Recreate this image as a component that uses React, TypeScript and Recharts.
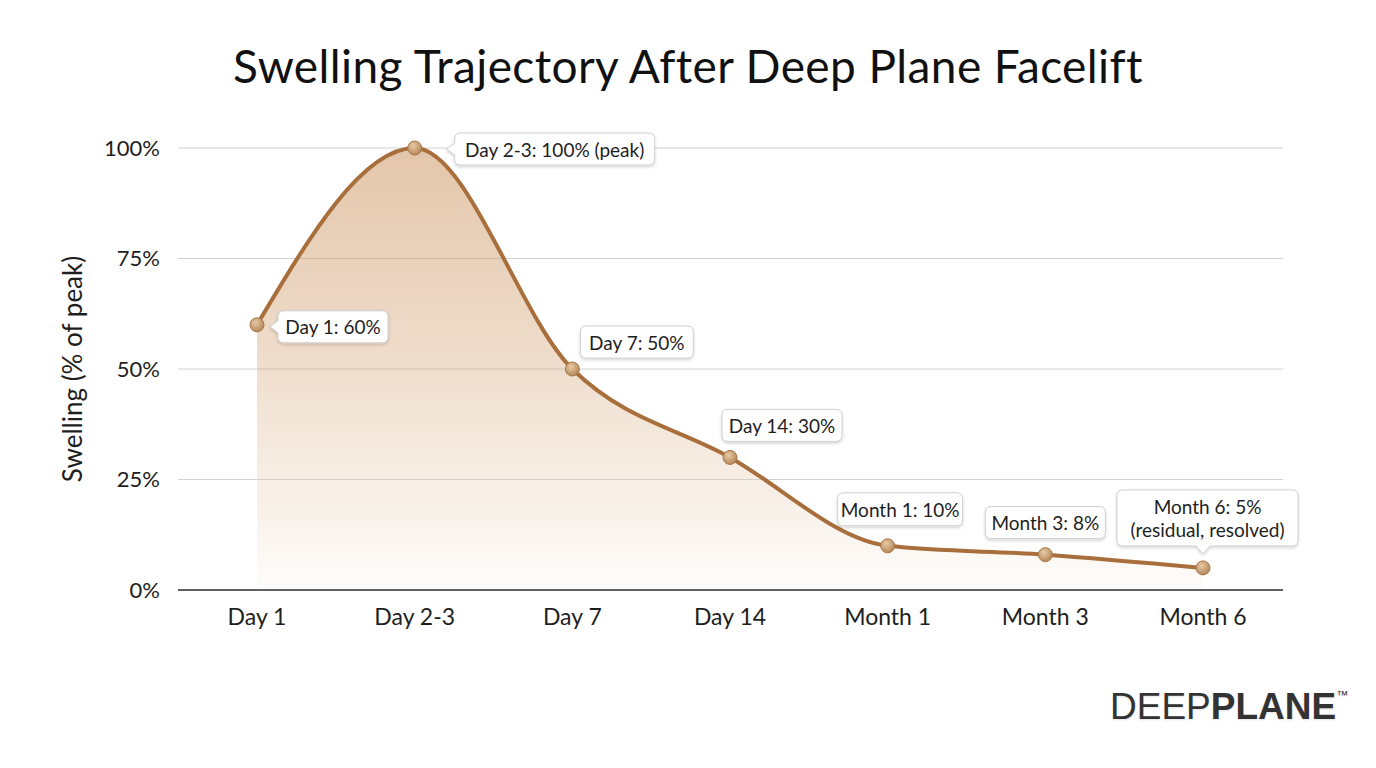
import React from 'react';
import { AreaChart, Area, XAxis, YAxis, CartesianGrid, LabelList } from 'recharts';

const categories = ['Day 1', 'Day 2-3', 'Day 7', 'Day 14', 'Month 1', 'Month 3', 'Month 6'];
const swelling = [60, 100, 50, 30, 10, 8, 5];
const pointLabels = [
  ['Day 1: 60%'],
  ['Day 2-3: 100% (peak)'],
  ['Day 7: 50%'],
  ['Day 14: 30%'],
  ['Month 1: 10%'],
  ['Month 3: 8%'],
  ['Month 6: 5%', '(residual, resolved)'],
];
const yTicks = [0, 25, 50, 75, 100];

const data = categories.map((c, i) => ({ name: c, value: swelling[i], label: pointLabels[i] }));

const FONT = 'Lato, "Open Sans", "Noto Sans", sans-serif';

// box placement relative to each point (style only)
const labelLayout = [
  { dx: 21, dy: -14, w: 110, h: 32, pointer: 'left' },
  { dx: 40, dy: -15, w: 200, h: 32, pointer: 'left' },
  { dx: 8, dy: -43, w: 113, h: 32, pointer: 'none' },
  { dx: -8, dy: -48, w: 120, h: 32, pointer: 'none' },
  { dx: -50, dy: -53, w: 125, h: 33, pointer: 'none' },
  { dx: -60, dy: -48, w: 120, h: 32, pointer: 'none' },
  { dx: -86, dy: -78, w: 181, h: 56, pointer: 'down' },
];

function boxPath(L: number, T: number, w: number, h: number, pointer: string, px: number) {
  const r = 6;
  const R = L + w;
  const B = T + h;
  const cy = T + h / 2;
  let p = `M ${L + r},${T} H ${R - r} Q ${R},${T} ${R},${T + r} V ${B - r} Q ${R},${B} ${R - r},${B}`;
  if (pointer === 'down') {
    p += ` H ${px + 7} L ${px},${B + 8} L ${px - 7},${B}`;
  }
  p += ` H ${L + r} Q ${L},${B} ${L},${B - r}`;
  if (pointer === 'left') {
    p += ` V ${cy + 6} L ${L - 8},${cy} L ${L},${cy - 6}`;
  }
  p += ` V ${T + r} Q ${L},${T} ${L + r},${T} Z`;
  return p;
}

const renderLabel = (props: any) => {
  const { x, y, index } = props;
  const lay = labelLayout[index];
  const lines = pointLabels[index];
  if (!lay || x == null || y == null) return null;
  const L = x + lay.dx;
  const T = y + lay.dy;
  const cx = L + lay.w / 2;
  const lh = 23;
  const startY = T + lay.h / 2 - ((lines.length - 1) * lh) / 2;
  return (
    <g key={`lbl-${index}`}>
      <path d={boxPath(L, T, lay.w, lay.h, lay.pointer, x)} fill="#ffffff" stroke="#cfcfcf" strokeWidth={1} filter="url(#boxShadow)" />
      {lines.map((t, i) => (
        <text key={i} x={cx} y={startY + i * lh} textAnchor="middle" dominantBaseline="central" fontSize={19} fill="#1e1e1e" fontFamily={FONT}>
          {t}
        </text>
      ))}
    </g>
  );
};

const YLabel = (props: any) => {
  const vb = props.viewBox || {};
  const cy = (vb.y ?? 148) + (vb.height ?? 442) / 2;
  const x = 82;
  return (
    <text x={x} y={cy} transform={`rotate(-90, ${x}, ${cy})`} textAnchor="middle" fontSize={26} fill="#1e1e1e" fontFamily={FONT}>
      Swelling (% of peak)
    </text>
  );
};

export default function App() {
  return (
    <div style={{ position: 'absolute', left: 0, top: 0, width: 1376, height: 768, background: '#ffffff', fontFamily: FONT }}>
      <div style={{ position: 'absolute', left: 0, top: 38, width: 1376, textAlign: 'center', fontSize: 46, color: '#111', fontFamily: FONT, letterSpacing: 0.4 }}>
        Swelling Trajectory After Deep Plane Facelift
      </div>
      <AreaChart width={1376} height={768} data={data} margin={{ top: 148, right: 93, bottom: 148, left: 98 }}>
        <defs>
          <linearGradient id="areaFill" x1="0" y1="0" x2="0" y2="1">
            <stop offset="0%" stopColor="#c98f58" stopOpacity={0.85} />
            <stop offset="45%" stopColor="#d4a679" stopOpacity={0.68} />
            <stop offset="80%" stopColor="#e8cdb2" stopOpacity={0.5} />
            <stop offset="100%" stopColor="#f7eee5" stopOpacity={0.35} />
          </linearGradient>
          <radialGradient id="dotFill" cx="40%" cy="35%" r="70%">
            <stop offset="0%" stopColor="#e8caa4" />
            <stop offset="100%" stopColor="#b08254" />
          </radialGradient>
          <filter id="boxShadow" x="-20%" y="-30%" width="140%" height="170%">
            <feDropShadow dx="0" dy="1.5" stdDeviation="1.5" floodColor="#000" floodOpacity="0.18" />
          </filter>
        </defs>
        <CartesianGrid vertical={false} stroke="#d2d2d2" strokeWidth={1} />
        <XAxis
          dataKey="name"
          padding={{ left: 79, right: 80 }}
          tickLine={false}
          tickMargin={13}
          axisLine={{ stroke: '#333', strokeWidth: 1.5 }}
          tick={{ fontSize: 23, fill: '#1e1e1e', fontFamily: FONT }}
          interval={0}
        />
        <YAxis
          width={80}
          domain={[0, 100]}
          ticks={yTicks}
          tickFormatter={(v: number) => `${v}%`}
          axisLine={false}
          tickLine={false}
          tickMargin={12}
          tick={{ fontSize: 22, fill: '#1e1e1e', fontFamily: FONT }}
          label={{ content: YLabel }}
        />
        <Area
          type="monotone"
          dataKey="value"
          stroke="#a86f3c"
          strokeWidth={4}
          fill="url(#areaFill)"
          isAnimationActive={false}
          dot={{ r: 7, fill: 'url(#dotFill)', stroke: '#a87648', strokeWidth: 1, fillOpacity: 1 }}
          activeDot={false}
        >
          <LabelList dataKey="value" content={renderLabel} />
        </Area>
      </AreaChart>
      <div style={{ position: 'absolute', left: 1110, top: 686, fontFamily: '"Liberation Sans", Arial, sans-serif', fontSize: 37, color: '#333', textShadow: '0 0 2px #fff, 0 1px 2px rgba(0,0,0,0.15)', whiteSpace: 'nowrap' }}>
        <span style={{ fontWeight: 400 }}>DEEP</span>
        <span style={{ fontWeight: 700 }}>PLANE</span>
        <span style={{ fontSize: 12, verticalAlign: 'top', position: 'relative', top: 2 }}>™</span>
      </div>
    </div>
  );
}
